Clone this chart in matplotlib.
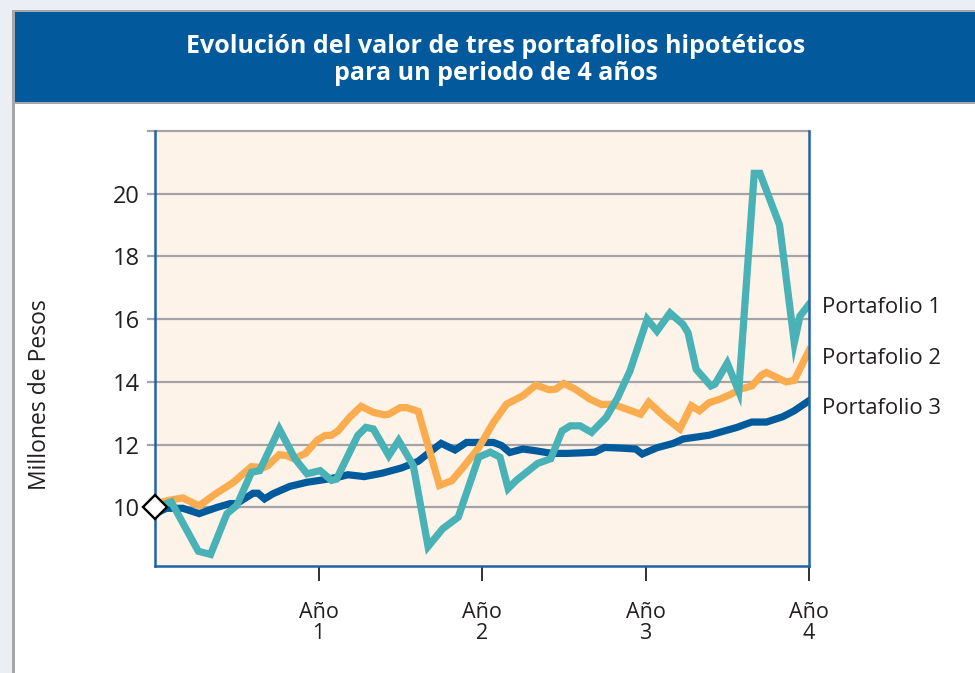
import matplotlib
matplotlib.use("Agg")
import matplotlib.pyplot as plt
from matplotlib.patches import Rectangle

plt.rcParams['font.family'] = ['Open Sans', 'DejaVu Sans']

# ---------------- data ----------------
title = "Evolución del valor de tres portafolios hipotéticos\npara un periodo de 4 años"
ylabel = "Millones de Pesos"
series_names = ["Portafolio 1", "Portafolio 2", "Portafolio 3"]
year_ticks = [1, 2, 3, 4]
year_labels = ["Año\n1", "Año\n2", "Año\n3", "Año\n4"]
y_ticks = [10, 12, 14, 16, 18, 20]
y_grid = [10, 12, 14, 16, 18, 20, 22]

p1_x = [0, 0.10, 0.265, 0.34, 0.44, 0.50, 0.59, 0.64, 0.76, 0.856, 0.93, 1.01, 1.08, 1.11,
        1.24, 1.29, 1.335, 1.43, 1.49, 1.58, 1.67, 1.76, 1.855, 1.98, 2.05, 2.11, 2.16, 2.21,
        2.34, 2.42, 2.49, 2.54, 2.60, 2.67, 2.76, 2.83, 2.905, 3.01, 3.07, 3.15, 3.23, 3.26,
        3.31, 3.40, 3.425, 3.50, 3.57, 3.665, 3.70, 3.82, 3.91, 3.945, 4.0]
p1_y = [10.0, 10.17, 8.6, 8.5, 9.8, 10.06, 11.12, 11.17, 12.5, 11.55, 11.07, 11.17, 10.86, 10.9,
        12.29, 12.55, 12.5, 11.65, 12.13, 11.33, 8.75, 9.32, 9.69, 11.6, 11.76, 11.6, 10.6, 10.86,
        11.4, 11.55, 12.44, 12.6, 12.6, 12.39, 12.87, 13.5, 14.35, 16.0, 15.62, 16.2, 15.83, 15.57,
        14.4, 13.87, 13.93, 14.6, 13.7, 20.65, 20.65, 19.0, 15.25, 16.1, 16.47]

p2_x = [0, 0.08, 0.17, 0.27, 0.37, 0.48, 0.59, 0.66, 0.69, 0.76, 0.805, 0.85, 0.92, 0.99, 1.04,
        1.08, 1.12, 1.19, 1.26, 1.335, 1.40, 1.43, 1.50, 1.54, 1.61, 1.74, 1.815, 1.885, 1.98,
        2.07, 2.15, 2.25, 2.33, 2.41, 2.45, 2.50, 2.57, 2.66, 2.73, 2.80, 2.885, 2.97, 3.02,
        3.12, 3.21, 3.28, 3.33, 3.39, 3.455, 3.52, 3.58, 3.65, 3.71, 3.74, 3.86, 3.91, 4.0]
p2_y = [10.1, 10.22, 10.3, 10.05, 10.43, 10.8, 11.3, 11.26, 11.33, 11.68, 11.65, 11.55, 11.72,
        12.13, 12.29, 12.3, 12.44, 12.87, 13.22, 13.03, 12.95, 12.97, 13.18, 13.18, 13.06, 10.7,
        10.85, 11.28, 11.9, 12.71, 13.29, 13.56, 13.9, 13.75, 13.77, 13.95, 13.77, 13.45, 13.28,
        13.29, 13.13, 12.97, 13.35, 12.87, 12.5, 13.24, 13.08, 13.34, 13.45, 13.6, 13.77, 13.87,
        14.22, 14.3, 14.0, 14.05, 15.0]

p3_x = [0, 0.07, 0.17, 0.27, 0.38, 0.46, 0.50, 0.60, 0.63, 0.67, 0.72, 0.825, 0.93, 1.03, 1.12,
        1.18, 1.28, 1.39, 1.51, 1.61, 1.68, 1.75, 1.835, 1.905, 2.07, 2.12, 2.17, 2.25, 2.32,
        2.43, 2.52, 2.62, 2.69, 2.75, 2.845, 2.94, 2.98, 3.07, 3.17, 3.23, 3.39, 3.56, 3.65,
        3.74, 3.84, 3.91, 4.0]
p3_y = [9.8, 9.97, 9.97, 9.8, 10.0, 10.12, 10.12, 10.45, 10.45, 10.27, 10.43, 10.67, 10.8, 10.88,
        10.96, 11.04, 10.98, 11.09, 11.26, 11.47, 11.76, 12.04, 11.83, 12.07, 12.07, 11.97, 11.75,
        11.86, 11.81, 11.72, 11.72, 11.74, 11.76, 11.91, 11.89, 11.86, 11.7, 11.9, 12.04, 12.18,
        12.3, 12.55, 12.72, 12.72, 12.89, 13.08, 13.4]

start_x = [0]
start_y = [10]

# ---------------- style ----------------
c_teal = "#48B2B6"
c_orange = "#FBAC4E"
c_blue = "#005B9D"
c_spine = "#1F62AB"
c_grid = "#A3A3A8"
c_bg = "#FEF3E8"
c_banner = "#02599B"
c_page = "#ECEEF6"
c_text = "#231F20"

W, H = 975, 673
fig = plt.figure(figsize=(W / 100, H / 100), dpi=100)
fig.patch.set_facecolor("white")

def fx(px):
    return px / W

def fy(py):
    return 1 - py / H

# page background and frame
fig.add_artist(Rectangle((0, 0), 1, 1, transform=fig.transFigure, color=c_page, zorder=-10))
fig.add_artist(Rectangle((fx(12), 0), 1, fy(10), transform=fig.transFigure,
                         facecolor="white", edgecolor="none", zorder=-9))
fig.add_artist(Rectangle((fx(12), 0), fx(3), fy(10), transform=fig.transFigure,
                         facecolor="#A6A6AA", edgecolor="none", zorder=-8))
fig.add_artist(Rectangle((fx(12), fy(104)), 1, fy(10) - fy(104), transform=fig.transFigure,
                         facecolor="#A6A6AA", edgecolor="none", zorder=-8))
fig.add_artist(Rectangle((fx(15), fy(102)), 1, fy(12) - fy(102), transform=fig.transFigure,
                         facecolor=c_banner, edgecolor="none", zorder=-7))
fig.text(fx(496), fy(60), title, color="white", fontsize=18, fontweight="bold",
         ha="center", va="center", linespacing=1.12)

ax = fig.add_axes([fx(155), fy(566), fx(809) - fx(155), fy(131) - fy(566)])
ax.set_facecolor(c_bg)
ax.set_xlim(0, 4)
ax.set_ylim(8.13, 22)

for g in y_grid:
    ax.axhline(g, color=c_grid, lw=1.6, zorder=1, clip_on=False)

lw = 5.2
ax.plot(p3_x, p3_y, color=c_blue, lw=lw, solid_joinstyle="miter", zorder=3)
ax.plot(p2_x, p2_y, color=c_orange, lw=lw, solid_joinstyle="miter", zorder=4)
ax.plot(p1_x, p1_y, color=c_teal, lw=lw, solid_joinstyle="miter", zorder=5)
ax.plot(start_x, start_y, marker="D", ms=12, mfc="white", mec="black", mew=1.7,
        clip_on=False, zorder=7, linestyle="none")

ax.spines["top"].set_visible(False)
for s in ["left", "right", "bottom"]:
    ax.spines[s].set_color(c_spine)
    ax.spines[s].set_linewidth(1.8)
    ax.spines[s].set_zorder(6)

ax.set_yticks(y_grid)
ax.set_yticklabels([str(v) if v in y_ticks else "" for v in y_grid])
ax.tick_params(axis="y", length=6, width=1.6, color=c_grid, labelsize=17,
               labelcolor=c_text, pad=5)
ax.set_xticks(year_ticks)
ax.set_xticklabels(year_labels)
ax.tick_params(axis="x", length=11, width=1.3, color=c_text, labelsize=15.5,
               labelcolor=c_text, pad=15)
for lab in ax.get_xticklabels():
    lab.set_linespacing(1.02)

fig.text(fx(40), fy(395), ylabel, rotation=90, fontsize=16.5, color=c_text,
         ha="center", va="center")

label_y = [308, 359, 409]
for name, py in zip(series_names, label_y):
    fig.text(fx(822), fy(py), name, fontsize=15.8, color=c_text, ha="left", va="center")

fig.savefig("out.png", dpi=100)
